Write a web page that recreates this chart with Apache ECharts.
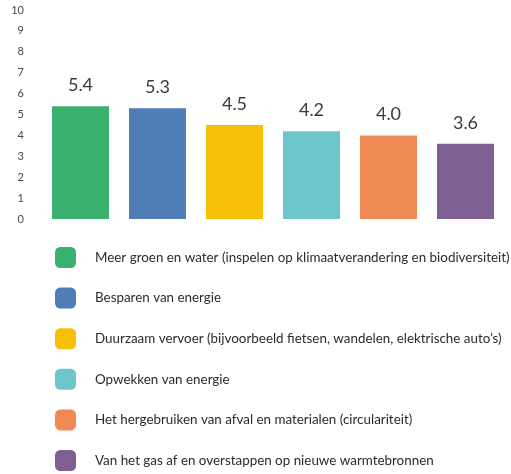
<!DOCTYPE html>
<html>
<head>
<meta charset="utf-8">
<script src="https://cdn.jsdelivr.net/npm/echarts@6/dist/echarts.min.js"></script>
<style>
  html, body { margin: 0; padding: 0; background: #fff; }
  #chart { width: 511px; height: 474px; }
</style>
</head>
<body>
<div id="chart"></div>
<script>
(function () {
  var categories = [
    "Meer groen en water (inspelen op klimaatverandering en biodiversiteit)",
    "Besparen van energie",
    "Duurzaam vervoer (bijvoorbeeld fietsen, wandelen, elektrische auto\u2019s)",
    "Opwekken van energie",
    "Het hergebruiken van afval en materialen (circulariteit)",
    "Van het gas af en overstappen op nieuwe warmtebronnen"
  ];
  var values = [5.4, 5.3, 4.5, 4.2, 4.0, 3.6];
  var colors = ["#3bb16f", "#4f7db7", "#f8bf07", "#6ec5cb", "#f08a55", "#7d5f91"];
  var yTicks = [0, 10, 1];

  var FONT = "Lato, 'Noto Sans', sans-serif";

  // one series per category so the legend gets an entry for each bar
  var series = categories.map(function (name, i) {
    var data = values.map(function (v, j) { return j === i ? v : "-"; });
    return {
      name: name,
      type: "bar",
      stack: "all",
      barWidth: "74%",
      data: data,
      itemStyle: { color: colors[i] },
      label: {
        show: true,
        position: "top",
        distance: 12,
        color: "#353a44",
        fontFamily: FONT,
        fontSize: 18,
        formatter: function (p) { return Number(p.value).toFixed(1); }
      }
    };
  });

  var chart = echarts.init(document.getElementById("chart"), null, { renderer: "canvas" });
  chart.setOption({
    animation: false,
    grid: { left: 42, right: 7, top: 10, height: 209 },
    xAxis: {
      type: "category",
      data: categories,
      axisLine: { show: false },
      axisTick: { show: false },
      axisLabel: { show: false }
    },
    yAxis: {
      type: "value",
      min: yTicks[0],
      max: yTicks[1],
      interval: yTicks[2],
      axisLine: { show: false },
      axisTick: { show: false },
      splitLine: { show: false },
      axisLabel: { color: "#454a53", fontSize: 11, fontFamily: FONT, margin: 18 }
    },
    legend: {
      orient: "vertical",
      left: 55,
      top: 247,
      padding: 0,
      itemWidth: 21,
      itemHeight: 21,
      itemGap: 19.6,
      icon: "roundRect",
      selectedMode: false,
      data: categories,
      textStyle: { color: "#2b2b2b", fontSize: 13.4, fontFamily: FONT, padding: [0, 0, 0, 14] }
    },
    series: series
  });
})();
</script>
</body>
</html>
